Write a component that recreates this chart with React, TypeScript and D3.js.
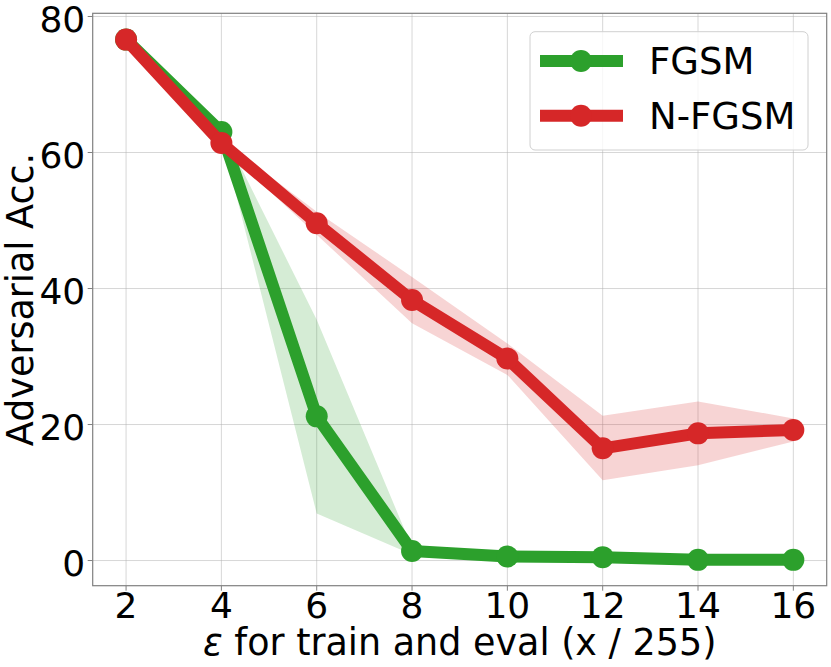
import * as d3 from "d3";

const epsilons = [2, 4, 6, 8, 10, 12, 14, 16];
const fgsmMean = [76.6, 63.0, 21.2, 1.4, 0.6, 0.5, 0.1, 0.1];
const fgsmLow = [76.6, 62.4, 6.9, 0.9, 0.3, 0.2, 0.0, 0.0];
const fgsmHigh = [76.6, 63.6, 35.4, 1.9, 0.9, 0.8, 0.3, 0.3];
const nfgsmMean = [76.6, 61.4, 49.6, 38.3, 29.7, 16.5, 18.7, 19.2];
const nfgsmLow = [76.6, 60.9, 47.9, 34.9, 27.3, 11.8, 14.0, 17.5];
const nfgsmHigh = [76.6, 61.9, 51.3, 41.7, 31.9, 21.3, 23.4, 20.9];
const yTicks = [0, 20, 40, 60, 80];

const W = 831;
const H = 667;
const margin = { left: 92.7, right: 4.3, top: 13.3, bottom: 81.3 };
const FONT = "'DejaVu Sans', sans-serif";

const x = d3.scaleLinear().domain([1.3, 16.7]).range([margin.left, W - margin.right]);
const y = d3.scaleLinear().domain([-3.7, 80.47]).range([H - margin.bottom, margin.top]);

const series = [
  { name: "FGSM", color: "#2ca02c", mean: fgsmMean, low: fgsmLow, high: fgsmHigh },
  { name: "N-FGSM", color: "#d62728", mean: nfgsmMean, low: nfgsmLow, high: nfgsmHigh },
];

const line = d3
  .line<number>()
  .x((_, i) => x(epsilons[i]))
  .y((d) => y(d));

const area = (low: number[], high: number[]) =>
  d3
    .area<number>()
    .x((_, i) => x(epsilons[i]))
    .y0((_, i) => y(low[i]))
    .y1((_, i) => y(high[i]))(epsilons);

export default function App() {
  const [x0, x1] = x.range();
  const [y0, y1] = y.range();
  return (
    <div style={{ position: "absolute", left: 0, top: 0 }}>
      <svg width={W} height={H} style={{ display: "block", fontFamily: FONT }}>
        <rect width={W} height={H} fill="white" />
        {/* grid */}
        <g stroke="#b0b0b0" strokeOpacity={0.5} strokeWidth={1}>
          {epsilons.map((e) => (
            <line key={e} x1={x(e)} x2={x(e)} y1={y1} y2={y0} />
          ))}
          {yTicks.map((t) => (
            <line key={t} x1={x0} x2={x1} y1={y(t)} y2={y(t)} />
          ))}
        </g>
        {/* bands */}
        {series.map((s) => (
          <path key={s.name + "b"} d={area(s.low, s.high) ?? ""} fill={s.color} fillOpacity={0.2} />
        ))}
        {/* lines + markers */}
        {series.map((s) => (
          <g key={s.name}>
            <path d={line(s.mean) ?? ""} fill="none" stroke={s.color} strokeWidth={12} strokeLinejoin="round" />
            {s.mean.map((v, i) => (
              <circle key={i} cx={x(epsilons[i])} cy={y(v)} r={11} fill={s.color} />
            ))}
          </g>
        ))}
        {/* spines */}
        <rect x={x0} y={y1} width={x1 - x0} height={y0 - y1} fill="none" stroke="#808080" strokeWidth={1.2} />
        {/* x ticks */}
        {epsilons.map((e) => (
          <g key={e} transform={`translate(${x(e)},${y0})`}>
            <line y2={5} stroke="#808080" />
            <text y={32} textAnchor="middle" fontSize={36} fill="black">
              {e}
            </text>
          </g>
        ))}
        {/* y ticks */}
        {yTicks.map((t) => (
          <g key={t} transform={`translate(${x0},${y(t)})`}>
            <line x2={-5} stroke="#808080" />
            <text x={-7.5} dy="0.43em" textAnchor="end" fontSize={36} fill="black">
              {t}
            </text>
          </g>
        ))}
        <text x={(x0 + x1) / 2} y={655} textAnchor="middle" fontSize={36.5} fill="black">
          <tspan fontStyle="italic">ε</tspan> for train and eval (x / 255)
        </text>
        <text
          transform={`translate(33,${(y0 + y1) / 2}) rotate(-90)`}
          textAnchor="middle"
          fontSize={36.5}
          fill="black"
        >
          Adversarial Acc.
        </text>
        {/* legend */}
        <g>
          <rect x={530} y={31.7} width={278} height={118.3} rx={5} fill="white" fillOpacity={0.8} stroke="#d0d0d0" />
          {series.map((s, i) => {
            const ly = 61 + i * 54.7;
            return (
              <g key={s.name}>
                <line x1={540} x2={623} y1={ly} y2={ly} stroke={s.color} strokeWidth={12} />
                <circle cx={581} cy={ly} r={11} fill={s.color} />
                <text x={649} y={ly} dy="0.36em" fontSize={37} fill="black">
                  {s.name}
                </text>
              </g>
            );
          })}
        </g>
      </svg>
    </div>
  );
}
